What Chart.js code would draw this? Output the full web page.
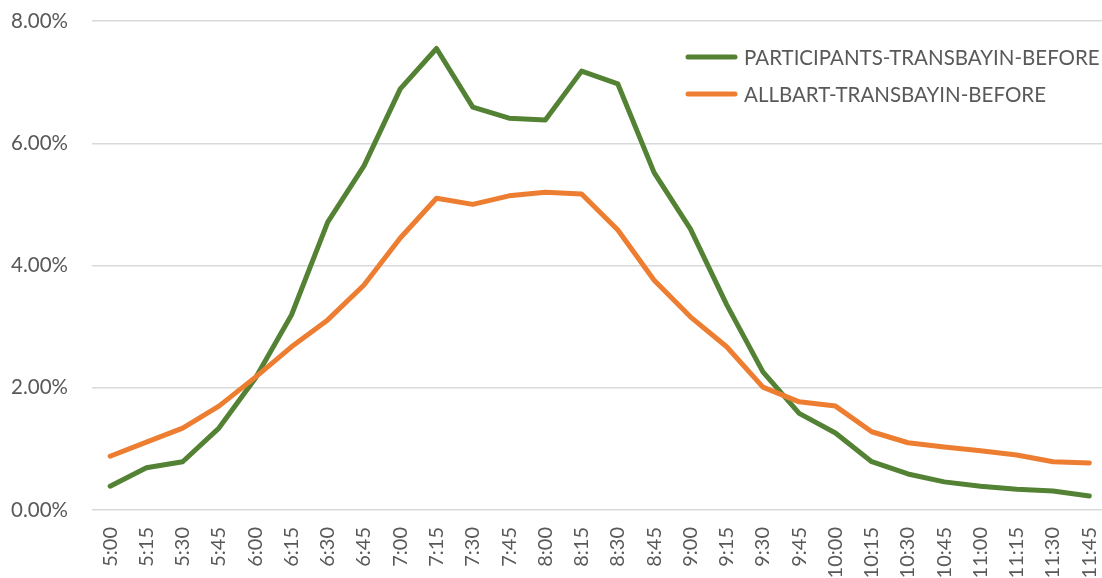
<!DOCTYPE html>
<html>
<head>
<meta charset="utf-8">
<script src="https://cdn.jsdelivr.net/npm/chart.js@4.4.0/dist/chart.umd.min.js"></script>
<style>
  html, body { margin: 0; padding: 0; background: #fff; }
</style>
</head>
<body>
<canvas id="myChart" width="1102" height="578"></canvas>
<script>
// datos
const horas = ['5:00', '5:15', '5:30', '5:45', '6:00', '6:15', '6:30', '6:45', '7:00', '7:15',
  '7:30', '7:45', '8:00', '8:15', '8:30', '8:45', '9:00', '9:15', '9:30', '9:45',
  '10:00', '10:15', '10:30', '10:45', '11:00', '11:15', '11:30', '11:45'];
const participantes = [0.39, 0.69, 0.79, 1.34, 2.15, 3.19, 4.71, 5.63, 6.89, 7.55,
  6.59, 6.41, 6.38, 7.18, 6.97, 5.52, 4.60, 3.36, 2.26, 1.58,
  1.26, 0.79, 0.59, 0.46, 0.39, 0.34, 0.31, 0.23];
const allBart = [0.88, 1.11, 1.34, 1.70, 2.17, 2.67, 3.11, 3.68, 4.45, 5.10,
  5.00, 5.14, 5.20, 5.17, 4.58, 3.76, 3.16, 2.67, 2.01, 1.77,
  1.70, 1.28, 1.10, 1.03, 0.97, 0.90, 0.79, 0.77];
const nombresSeries = ['PARTICIPANTS-TRANSBAYIN-BEFORE', 'ALLBART-TRANSBAYIN-BEFORE'];
const yTicks = [0, 2, 4, 6, 8];

const fuente = 'Lato, "Open Sans", sans-serif';
const gris = '#595959';

const leyendaPlugin = {
  id: 'leyenda',
  afterDraw(chart) {
    const ctx = chart.ctx;
    chart.data.datasets.forEach((ds, i) => {
      const y = 57 + i * 37;
      ctx.save();
      ctx.strokeStyle = ds.borderColor;
      ctx.lineWidth = 5;
      ctx.lineCap = 'round';
      ctx.beginPath();
      ctx.moveTo(688, y);
      ctx.lineTo(735, y);
      ctx.stroke();
      ctx.fillStyle = gris;
      ctx.font = '20.5px ' + fuente;
      ctx.textBaseline = 'middle';
      ctx.fillText(ds.label, 744, y + 1);
      ctx.restore();
    });
  }
};

const ctx = document.getElementById('myChart');
new Chart(ctx, {
  type: 'line',
  data: {
    datasets: [{
      label: nombresSeries[0],
      data: participantes.map((v, i) => ({ x: i, y: v })),
      borderColor: '#548235',
      borderWidth: 5,
      order: 1
    }, {
      label: nombresSeries[1],
      data: allBart.map((v, i) => ({ x: i, y: v })),
      borderColor: '#ED7D31',
      borderWidth: 5,
      order: 0
    }]
  },
  options: {
    responsive: false,
    animation: false,
    devicePixelRatio: 1,
    layout: { padding: { top: 21, left: 0, right: 0, bottom: 0 } },
    elements: {
      point: { radius: 0 },
      line: { tension: 0, borderJoinStyle: 'round', borderCapStyle: 'round' }
    },
    plugins: {
      legend: { display: false },
      tooltip: { enabled: false }
    },
    scales: {
      x: {
        type: 'linear',
        min: -0.5,
        max: 27.35,
        grid: { display: false, drawTicks: false },
        border: { display: false },
        afterBuildTicks: (scale) => {
          scale.ticks = horas.map((h, i) => ({ value: i }));
        },
        afterFit: (scale) => {
          scale.height = 68;
          scale.paddingLeft = 0;
          scale.paddingRight = 0;
        },
        ticks: {
          autoSkip: false,
          minRotation: 90,
          maxRotation: 90,
          padding: 17,
          color: gris,
          font: { family: fuente, size: 20 },
          callback: (v) => horas[v]
        }
      },
      y: {
        min: 0,
        max: 8,
        afterBuildTicks: (scale) => {
          scale.ticks = yTicks.map((v) => ({ value: v }));
        },
        afterFit: (scale) => {
          scale.width = 92;
          scale.paddingTop = 0;
          scale.paddingBottom = 0;
        },
        grid: { color: '#d9d9d9', lineWidth: 1.5, drawTicks: false },
        border: { display: false },
        ticks: {
          padding: 24,
          color: gris,
          font: { family: fuente, size: 20.5 },
          callback: (v) => v.toFixed(2) + '%'
        }
      }
    }
  },
  plugins: [leyendaPlugin]
});
</script>
</body>
</html>
